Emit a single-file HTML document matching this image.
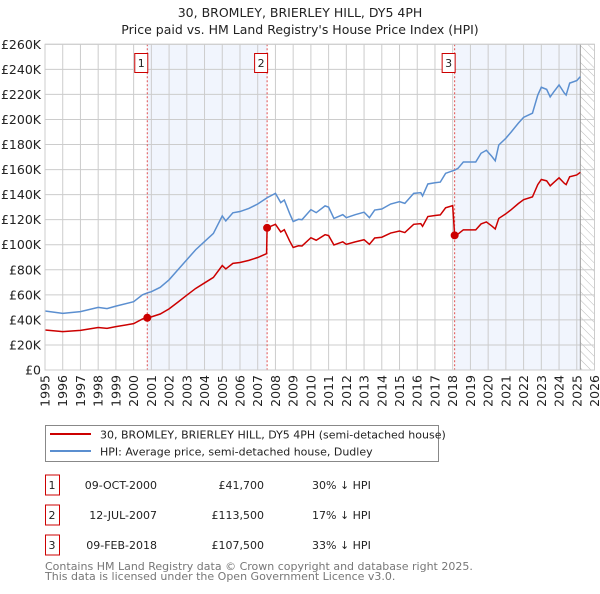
<!DOCTYPE html>
<html><head><meta charset="utf-8"><style>
body{margin:0;background:#fff;font-family:"DejaVu Sans","Liberation Sans",sans-serif;}
svg text{font-family:"DejaVu Sans","Liberation Sans",sans-serif;}
</style></head><body>
<svg id="chart" width="600" height="590" viewBox="0 0 600 590" xmlns="http://www.w3.org/2000/svg">
<defs><pattern id="hatch" width="6" height="6" patternUnits="userSpaceOnUse" patternTransform="rotate(-45)"><line x1="0" y1="0" x2="0" y2="6" stroke="#bbb" stroke-width="1"/></pattern></defs>
<text x="300" y="17" text-anchor="middle" font-size="12.5" fill="#222">30, BROMLEY, BRIERLEY HILL, DY5 4PH</text>
<text x="300" y="34" text-anchor="middle" font-size="12.5" fill="#222">Price paid vs. HM Land Registry's House Price Index (HPI)</text>
<g id="plot"></g>
<g>
<rect x="45.5" y="425.5" width="393" height="36" fill="#fff" stroke="#888"/>
<line x1="50" y1="434" x2="91" y2="434" stroke="#cc0000" stroke-width="2"/>
<text x="100" y="438.5" font-size="11" fill="#222">30, BROMLEY, BRIERLEY HILL, DY5 4PH (semi-detached house)</text>
<line x1="50" y1="451" x2="91" y2="451" stroke="#5b8fd0" stroke-width="2"/>
<text x="100" y="455.5" font-size="11" fill="#222">HPI: Average price, semi-detached house, Dudley</text>
</g>
<g id="table" font-size="11" fill="#222"></g>
<text x="45" y="570" font-size="11" fill="#777">Contains HM Land Registry data © Crown copyright and database right 2025.</text>
<text x="45" y="580" font-size="11" fill="#777">This data is licensed under the Open Government Licence v3.0.</text>
</svg>
<script>
const hpiDates=[1995,1996,1997,1998,1998.5,1999,2000,2000.5,2000.77,2001,2001.5,2002,2002.5,2003,2003.5,2004,2004.5,2005,2005.2,2005.6,2006,2006.5,2007,2007.53,2008,2008.3,2008.5,2008.8,2009,2009.3,2009.5,2010,2010.3,2010.8,2011,2011.3,2011.8,2012,2012.5,2013,2013.3,2013.6,2014,2014.5,2015,2015.3,2015.8,2016.2,2016.3,2016.6,2017,2017.3,2017.6,2018,2018.11,2018.3,2018.6,2019,2019.3,2019.6,2019.9,2020.2,2020.4,2020.6,2021,2021.3,2021.7,2022,2022.5,2022.8,2023,2023.3,2023.5,2023.7,2024,2024.3,2024.4,2024.6,2025,2025.2];
const hpiValues=[47.1,45.2,46.6,50,49,51,54.5,60,61.5,62.5,66,72,80,88,96,102.5,109,123,119,125.5,126.5,129,132.5,137.5,141,133.6,135.7,125,118.5,120.3,120,128,125.6,131,130,121,124,121.6,124,126,121.6,127.7,128.5,132.5,134.4,133,141,141.6,139,148.5,149.5,150,157,159,159.5,161,166,166,166,173,175.4,170.6,167,179.6,185,190,197,201.7,205,219.5,225.7,224,218,222,227.6,221,219.5,229,231,234.2];
const priceDates=[1995,1996,1997,1998,1998.5,1999,2000,2000.5,2000.77,2001,2001.5,2002,2002.5,2003,2003.5,2004,2004.5,2005,2005.2,2005.6,2006,2006.5,2007,2007.5,2007.53,2008,2008.3,2008.5,2008.8,2009,2009.3,2009.5,2010,2010.3,2010.8,2011,2011.3,2011.8,2012,2012.5,2013,2013.3,2013.6,2014,2014.5,2015,2015.3,2015.8,2016.2,2016.3,2016.6,2017,2017.3,2017.6,2018,2018.11,2018.3,2018.6,2019,2019.3,2019.6,2019.9,2020.2,2020.4,2020.6,2021,2021.3,2021.7,2022,2022.5,2022.8,2023,2023.3,2023.5,2023.7,2024,2024.3,2024.4,2024.6,2025,2025.2];
const priceValues=[31.9,30.6,31.6,33.9,33.2,34.6,37,40.7,41.7,42.4,44.7,48.8,54.2,59.7,65.1,69.5,73.9,83.4,80.7,85.1,85.8,87.5,89.8,92.9,113.5,116.3,110.2,112,103,97.8,99.2,99,105.6,103.6,108,107.3,99.8,102.3,100.3,102.3,104,100.3,105.4,106,109.3,110.9,109.7,116.3,116.8,114.7,122.5,123.3,123.8,129.5,131.2,107.5,108.5,111.9,111.9,111.9,116.6,118.2,115,112.6,121,124.7,128,132.8,136,138.2,148,152.1,151,147,149.6,153.4,149,148,154.3,155.7,157.8];
const saleLabels=["1","2","3"];
const saleDates=[2000.77,2007.53,2018.11];
const saleDateText=["09-OCT-2000","12-JUL-2007","09-FEB-2018"];
const salePrices=[41.7,113.5,107.5];
const salePriceText=["£41,700","£113,500","£107,500"];
const salePctText=["30% ↓ HPI","17% ↓ HPI","33% ↓ HPI"];
const yTicks=[0,20,40,60,80,100,120,140,160,180,200,220,240,260];
const yTickLabels=["£0","£20K","£40K","£60K","£80K","£100K","£120K","£140K","£160K","£180K","£200K","£220K","£240K","£260K"];
const xTicks=[1995,1996,1997,1998,1999,2000,2001,2002,2003,2004,2005,2006,2007,2008,2009,2010,2011,2012,2013,2014,2015,2016,2017,2018,2019,2020,2021,2022,2023,2024,2025,2026];
const dataEnd=2025.2;

const X0=45,X1=594.5,Y0=370,Y1=44.3;
const xs=d=>X0+(d-1995)/(2026-1995)*(X1-X0);
const ys=v=>Y0-(v/260)*(Y0-Y1);
const NS="http://www.w3.org/2000/svg";
const plot=document.getElementById('plot');
function mk(tag,attrs,parent){const e=document.createElementNS(NS,tag);for(const k in attrs)e.setAttribute(k,attrs[k]);(parent||plot).appendChild(e);return e;}

let r=mk('rect',{x:X0,y:Y1,width:X1-X0,height:Y0-Y1,fill:'#fff'});


r=mk('rect',{x:xs(saleDates[0]),y:Y1,width:xs(saleDates[1])-xs(saleDates[0]),height:Y0-Y1,fill:'#eef3fc',opacity:0.8});


r=mk('rect',{x:xs(saleDates[2]),y:Y1,width:xs(dataEnd)-xs(saleDates[2]),height:Y0-Y1,fill:'#eef3fc',opacity:0.8});


r=mk('rect',{x:xs(dataEnd),y:Y1,width:X1-xs(dataEnd),height:Y0-Y1,fill:'url(#hatch)'});



yTicks.forEach((v,i)=>{
  const l=mk('line',{x1:X0,x2:X1,y1:ys(v),y2:ys(v),stroke:'#ccc','stroke-width':1});
  
  
  const t=mk('text',{x:X0-4,y:ys(v)+4.5,'text-anchor':'end','font-size':12.5,fill:'#222'});
  
  
  t.textContent=yTickLabels[i];
});
xTicks.forEach(d=>{
  const l=mk('line',{x1:xs(d),x2:xs(d),y1:Y1,y2:Y0,stroke:'#ccc','stroke-width':1});
  
  
  const t=mk('text',{x:0,y:0,'text-anchor':'end','font-size':12.5,fill:'#222',transform:`translate(${xs(d)+4.5},${Y0+5}) rotate(-90)`});
  
  
  t.textContent=d;
});
let vl=mk('line',{x1:xs(dataEnd),x2:xs(dataEnd),y1:Y1,y2:Y0,stroke:'#999','stroke-width':1});



saleDates.forEach((d,i)=>{
  const l=mk('line',{x1:xs(d),x2:xs(d),y1:Y1,y2:Y0,stroke:'#e05050','stroke-width':1,'stroke-dasharray':'2,2'});
  
  
});

let p=mk('polyline',{points:hpiDates.map((d,i)=>xs(d)+','+ys(hpiValues[i])).join(' '),fill:'none',stroke:'#5b8fd0','stroke-width':1.5});


p=mk('polyline',{points:priceDates.map((d,i)=>xs(d)+','+ys(priceValues[i])).join(' '),fill:'none',stroke:'#cc0000','stroke-width':1.5});



saleDates.forEach((d,i)=>{
  const c=mk('circle',{cx:xs(d),cy:ys(salePrices[i]),r:4,fill:'#cc0000'});
  
  
  const b=mk('rect',{x:xs(d)-12.5,y:53.5,width:13,height:19,fill:'#fff',stroke:'#cc0000'});
  
  
  const t=mk('text',{x:xs(d)-6,y:67,'text-anchor':'middle','font-size':11,fill:'#222'});
  
  
  t.textContent=saleLabels[i];
});
let f=mk('rect',{x:X0,y:Y1,width:X1-X0,height:Y0-Y1,fill:'none',stroke:'#ccc'});



const table=document.getElementById('table');
saleLabels.forEach((s,i)=>{
  const cy=485+i*30;
  const g=mk('g',{},table);
  
  
  const b=mk('rect',{x:45.5,y:cy-10,width:14,height:20,fill:'#fff',stroke:'#cc0000'},g);
  
  
  const cells=[[52,s,'middle','sale-number'],[157,saleDateText[i],'end','sale-date'],[264,salePriceText[i],'end','sale-price'],[312,salePctText[i],'start','sale-hpi-diff']];
  cells.forEach(c=>{
    const t=mk('text',{x:c[0],y:cy+4,'text-anchor':c[2],'font-size':11,fill:'#222'},g);
    
    
    t.textContent=c[1];
  });
});
</script>
</body></html>
